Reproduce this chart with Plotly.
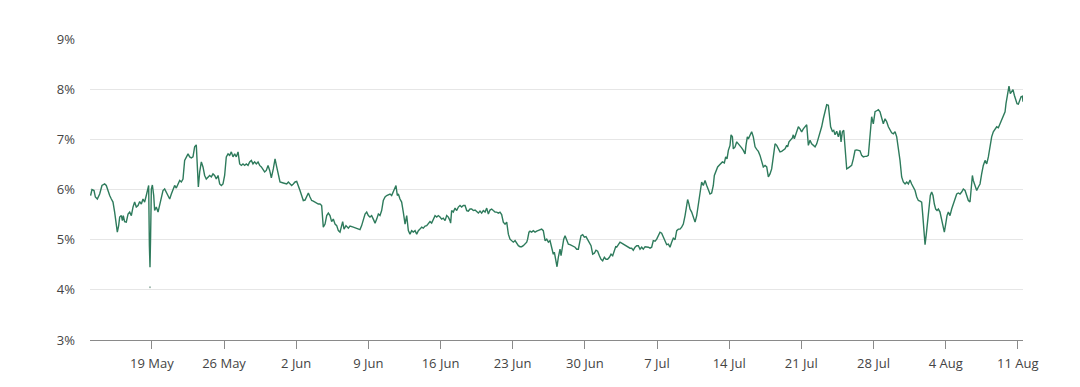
import pandas as pd
import plotly.graph_objects as go

START = "2024-05-13"

# time of each observation, in days since START
days = [
    0.06, 0.19, 0.39, 0.52, 0.71, 0.94, 1.16, 1.42, 1.58, 1.75, 1.91, 2.07, 2.23, 2.39, 2.55, 2.65,
    2.78, 2.88, 3.04, 3.14, 3.23, 3.36, 3.52, 3.69, 3.85, 4.01, 4.17, 4.33, 4.49, 4.66, 4.82, 4.98,
    5.14, 5.30, 5.46, 5.63, 5.69, 5.76, 5.82, 5.88, 5.95, 6.05, 6.18, 6.27, 6.43, 6.60, 6.76, 6.92,
    7.08, 7.24, 7.40, 7.57, 7.73, 7.89, 8.05, 8.21, 8.37, 8.54, 8.70, 8.86, 9.02, 9.18, 9.34, 9.51,
    9.67, 9.83, 9.99, 10.15, 10.31, 10.41, 10.51, 10.64, 10.80, 10.96, 11.12, 11.28, 11.45, 11.61,
    11.77, 11.93, 12.09, 12.25, 12.42, 12.58, 12.74, 12.90, 13.06, 13.22, 13.39, 13.55, 13.71, 13.87,
    14.03, 14.19, 14.36, 14.52, 14.68, 14.84, 15.00, 15.16, 15.33, 15.49, 15.65, 15.81, 15.97, 16.13,
    16.30, 16.46, 16.62, 16.78, 16.94, 17.10, 17.27, 17.43, 17.59,
    17.78, 17.95, 18.11, 18.27, 18.43, 18.75, 19.08, 19.24, 19.40, 19.56, 19.72, 19.89, 20.05, 20.21,
    20.37, 20.53, 20.69, 20.86, 21.02, 21.18, 21.34, 21.50, 21.66, 21.83, 21.99, 22.15, 22.31, 22.47,
    22.63, 22.80, 22.96, 23.12, 23.28, 23.44, 23.60, 23.77, 23.93, 24.09, 24.25, 24.41, 24.51, 24.64,
    24.83, 25.06, 25.22, 25.54, 25.87, 26.19, 26.35, 26.51, 26.68, 26.84, 27.00, 27.16, 27.32, 27.48,
    27.65, 27.81, 27.97, 28.13, 28.29, 28.45, 28.62, 28.78, 28.94, 29.10, 29.26, 29.42, 29.59, 29.68,
    29.81, 29.91, 30.07, 30.23, 30.39, 30.56, 30.72, 30.88, 31.04, 31.20, 31.36, 31.53, 31.69, 31.85,
    32.01, 32.17, 32.33, 32.50, 32.66, 32.82, 32.98, 33.14, 33.30, 33.47, 33.63, 33.79, 33.95, 34.11,
    34.27, 34.44, 34.60, 34.76, 34.92, 34.98, 35.08, 35.24, 35.41, 35.57, 35.73,
    35.89, 36.05, 36.21, 36.38, 36.54, 36.70, 36.86, 37.02, 37.18, 37.35, 37.51, 37.67, 37.83, 37.99,
    38.15, 38.32, 38.48, 38.64, 38.80, 38.96, 39.12, 39.29, 39.45, 39.61, 39.77, 39.93, 40.09, 40.26,
    40.42, 40.58, 40.74, 40.90, 41.06, 41.23, 41.39, 41.55, 41.71, 41.87, 42.03, 42.20, 42.36, 42.45,
    42.58, 42.68, 42.84, 43.00, 43.17, 43.33, 43.49, 43.65, 43.81, 43.97, 44.14, 44.30, 44.46, 44.62,
    44.78, 44.94, 45.04, 45.17, 45.30, 45.43, 45.59, 45.69, 45.82, 45.95, 46.08, 46.24, 46.40, 46.56,
    46.72, 46.88, 47.05, 47.21, 47.37, 47.53, 47.63, 47.79, 47.95, 48.11, 48.27, 48.44, 48.60, 48.76,
    48.92, 49.08, 49.24, 49.41, 49.57, 49.73, 49.89, 50.05, 50.21, 50.38, 50.54, 50.70, 50.86, 50.99,
    51.09, 51.25, 51.41, 51.57, 51.73, 51.90, 52.06, 52.22, 52.38, 52.54, 52.70, 52.87, 53.03, 53.19,
    53.35, 53.51, 53.67, 53.84, 54.00, 54.16,
    54.32, 54.48, 54.64, 54.81, 54.97, 55.13, 55.29, 55.45, 55.61, 55.78, 55.94, 56.10, 56.26, 56.42,
    56.58, 56.75, 56.91, 57.07, 57.23, 57.39, 57.55, 57.72, 57.88, 57.97, 58.10, 58.20, 58.36, 58.52,
    58.69, 58.85, 59.01, 59.17, 59.33, 59.49, 59.66, 59.82, 59.98, 60.14, 60.30, 60.46, 60.56, 60.69,
    60.88, 61.01, 61.21, 61.34, 61.53, 61.66, 61.79, 61.92, 62.08, 62.18, 62.31, 62.40, 62.57, 62.73,
    62.89, 63.05, 63.21, 63.37, 63.54, 63.63, 63.76, 63.86, 64.02, 64.18, 64.34, 64.51, 64.67, 64.83,
    64.99, 65.15, 65.31, 65.48, 65.64, 65.80, 65.96, 66.12, 66.28, 66.45, 66.61, 66.77, 66.93, 67.09,
    67.25, 67.42, 67.58, 67.67, 67.80, 67.96, 68.13, 68.22, 68.32, 68.45, 68.61, 68.71, 68.87, 69.03,
    69.19, 69.36, 69.52, 69.68, 69.84, 70.00, 70.16, 70.33, 70.49, 70.65, 70.81, 70.97, 71.13, 71.30,
    71.46, 71.62, 71.72, 71.84, 72.01, 72.14, 72.27, 72.43, 72.59,
    72.75, 72.85, 72.98, 73.11, 73.24, 73.40, 73.56, 73.72, 73.88, 74.04, 74.21, 74.37, 74.53, 74.69,
    74.85, 75.01, 75.18, 75.34, 75.50, 75.66, 75.82, 75.98, 76.15, 76.31, 76.47, 76.63, 76.79, 76.95,
    77.12, 77.28, 77.44, 77.60, 77.76, 77.92, 78.09, 78.25, 78.41, 78.57, 78.73, 78.89, 79.06, 79.22,
    79.38, 79.54, 79.70, 79.86, 80.03, 80.19, 80.35, 80.51, 80.67, 80.77, 80.87, 81.00, 81.12, 81.25,
    81.38, 81.51, 81.64, 81.77, 81.90, 82.03, 82.16, 82.29, 82.45, 82.61, 82.77, 82.87, 83.00, 83.13,
    83.26, 83.42, 83.58, 83.74, 83.91, 84.07, 84.23, 84.39, 84.55, 84.71, 84.88, 85.04, 85.20, 85.36,
    85.46, 85.59, 85.68, 85.85, 86.01, 86.17, 86.33, 86.49, 86.65, 86.82, 86.98, 87.14, 87.30, 87.46,
    87.62, 87.79, 87.95, 88.11, 88.27, 88.43, 88.59, 88.76, 88.85, 88.98, 89.08, 89.14, 89.27, 89.40,
    89.53, 89.66, 89.79, 89.92, 90.05, 90.18, 90.31, 90.44, 90.50,
]

# rate, in percent
rate = [
    5.88, 6.00, 5.98, 5.85, 5.81, 5.91, 6.08, 6.11, 6.08, 5.95, 5.88, 5.81, 5.75, 5.55, 5.25, 5.15,
    5.28, 5.45, 5.48, 5.38, 5.48, 5.36, 5.35, 5.51, 5.55, 5.48, 5.65, 5.75, 5.65, 5.68, 5.76, 5.71,
    5.81, 5.75, 5.88, 6.01, 6.08, 4.88, 4.45, 5.08, 6.01, 6.09, 5.88, 5.58, 5.65, 5.55, 5.68, 5.85,
    5.98, 6.01, 5.95, 5.88, 5.81, 5.91, 5.98, 6.08, 6.03, 6.11, 6.18, 6.15, 6.21, 6.58, 6.65, 6.71,
    6.65, 6.63, 6.65, 6.85, 6.89, 6.55, 6.05, 6.35, 6.55, 6.45, 6.28, 6.21, 6.25, 6.28,
    6.25, 6.31, 6.28, 6.21, 6.28, 6.11, 6.08, 6.11, 6.28, 6.65, 6.71, 6.68, 6.75, 6.65,
    6.71, 6.65, 6.75, 6.51, 6.48, 6.51, 6.48, 6.51, 6.48, 6.55, 6.58, 6.51, 6.55, 6.51,
    6.55, 6.48, 6.45, 6.41, 6.35, 6.38, 6.48, 6.38, 6.23,
    6.41, 6.61, 6.45, 6.28, 6.15, 6.13, 6.11, 6.15, 6.11, 6.08, 6.11, 6.15, 6.16, 6.08,
    5.98, 5.88, 5.78, 5.79, 5.85, 5.93, 5.85, 5.78, 5.77, 5.75, 5.73, 5.71, 5.71, 5.68,
    5.25, 5.31, 5.48, 5.53, 5.48, 5.36, 5.41, 5.31, 5.28, 5.18, 5.15, 5.25, 5.36, 5.21,
    5.28, 5.23, 5.27, 5.25, 5.23, 5.20, 5.28, 5.38, 5.51, 5.55, 5.48, 5.45, 5.48, 5.41,
    5.33, 5.41, 5.51, 5.48, 5.58, 5.78, 5.85, 5.88, 5.89, 5.91, 5.88, 5.95, 6.05, 6.08,
    5.88, 5.91, 5.81, 5.75, 5.55, 5.31, 5.48, 5.18, 5.11, 5.18, 5.15, 5.18, 5.11, 5.18,
    5.21, 5.25, 5.23, 5.27, 5.28, 5.31, 5.36, 5.33, 5.41, 5.48, 5.45, 5.48, 5.45, 5.41,
    5.43, 5.38, 5.48, 5.45, 5.38, 5.33, 5.58, 5.55, 5.63, 5.58, 5.65,
    5.68, 5.65, 5.68, 5.68, 5.58, 5.57, 5.61, 5.61, 5.58, 5.59, 5.55, 5.53, 5.57, 5.53,
    5.58, 5.55, 5.63, 5.51, 5.59, 5.61, 5.58, 5.55, 5.55, 5.53, 5.55, 5.50, 5.35, 5.31,
    5.35, 5.11, 5.01, 4.97, 4.95, 4.98, 4.93, 4.88, 4.86, 4.86, 4.88, 4.91, 4.95, 5.01,
    5.15, 5.17, 5.15, 5.18, 5.15, 5.17, 5.18, 5.19, 5.21, 5.18, 4.98, 5.01, 4.95, 4.98,
    4.81, 4.71, 4.75, 4.55, 4.46, 4.65, 4.81, 4.68, 4.85, 5.01, 5.08, 5.01, 4.91, 4.90,
    4.88, 4.86, 4.85, 4.81, 4.81, 4.98, 5.08, 5.10, 5.05, 5.06, 5.01, 4.95, 4.88, 4.71,
    4.73, 4.79, 4.77, 4.68, 4.61, 4.58, 4.65, 4.61, 4.61, 4.65, 4.71, 4.68, 4.78, 4.86,
    4.85, 4.91, 4.95, 4.93, 4.91, 4.88, 4.86, 4.85, 4.83, 4.83, 4.79, 4.85, 4.88, 4.88,
    4.81, 4.85, 4.81, 4.86, 4.86, 4.85,
    4.83, 4.85, 4.98, 4.97, 5.01, 5.09, 5.15, 5.13, 5.05, 4.95, 4.90, 4.91, 4.85, 4.95,
    5.03, 5.00, 5.18, 5.21, 5.21, 5.25, 5.31, 5.48, 5.68, 5.80, 5.71, 5.61, 5.55, 5.47,
    5.35, 5.48, 5.68, 5.88, 6.15, 6.08, 6.18, 6.08, 5.98, 5.91, 5.93, 6.08, 6.28, 6.35,
    6.45, 6.48, 6.53, 6.55, 6.53, 6.65, 6.61, 6.78, 6.88, 7.09, 7.05, 6.81, 6.85, 6.95,
    6.91, 6.88, 6.83, 6.78, 6.71, 6.88, 7.05, 7.01, 7.08, 7.15, 7.05, 6.85, 6.80, 6.76,
    6.68, 6.58, 6.45, 6.48, 6.45, 6.25, 6.31, 6.41, 6.68, 6.91, 6.88, 6.81, 6.75, 6.76,
    6.78, 6.81, 6.88, 6.85, 6.95, 6.98, 7.03, 7.09, 7.01, 7.09, 7.18, 7.25, 7.21, 7.15,
    7.21, 7.25, 7.29, 6.88, 6.98, 6.91, 6.88, 6.85, 6.91, 7.01, 7.11, 7.25, 7.41, 7.58,
    7.69, 7.68, 7.48, 7.25, 7.16, 7.18, 7.09, 7.16, 7.05,
    7.18, 6.95, 7.15, 7.18, 6.85, 6.41, 6.43, 6.46, 6.48, 6.61, 6.78, 6.79, 6.78, 6.77,
    6.68, 6.65, 6.66, 6.66, 6.68, 7.05, 7.45, 7.31, 7.55, 7.57, 7.59, 7.55, 7.45, 7.31,
    7.41, 7.35, 7.25, 7.18, 7.13, 7.11, 7.15, 7.05, 6.85, 6.58, 6.25, 6.15, 6.11, 6.15,
    6.11, 6.19, 6.11, 6.06, 5.98, 5.85, 5.78, 5.77, 5.75, 5.51, 5.18, 4.90, 5.11, 5.38,
    5.68, 5.88, 5.95, 5.88, 5.71, 5.61, 5.58, 5.61, 5.55, 5.38, 5.25, 5.15, 5.31, 5.48,
    5.55, 5.48, 5.61, 5.71, 5.81, 5.91, 5.93, 5.91, 5.95, 6.01, 5.98, 5.85, 5.78, 5.75,
    5.98, 6.28, 6.18, 6.05, 5.98, 6.05, 6.11, 6.31, 6.48, 6.58, 6.51, 6.65, 6.88, 7.05,
    7.15, 7.21, 7.25, 7.23, 7.31, 7.39, 7.45, 7.55, 7.71, 7.88, 7.99, 8.06, 7.91, 7.95,
    7.99, 7.88, 7.81, 7.71, 7.70, 7.78, 7.85, 7.86, 7.75,
]

# isolated stray observation below the spike
stray_days = [5.82]
stray_rate = [4.05]

tick_dates = ["2024-05-19", "2024-05-26", "2024-06-02", "2024-06-09", "2024-06-16",
              "2024-06-23", "2024-06-30", "2024-07-07", "2024-07-14", "2024-07-21",
              "2024-07-28", "2024-08-04", "2024-08-11"]
tick_labels = ["19 May", "26 May", "2 Jun", "9 Jun", "16 Jun", "23 Jun", "30 Jun",
               "7 Jul", "14 Jul", "21 Jul", "28 Jul", "4 Aug", "11 Aug"]
y_ticks = [3, 4, 5, 6, 7, 8, 9]
y_labels = ["3%", "4%", "5%", "6%", "7%", "8%", "9%"]

start = pd.Timestamp(START)
x = start + pd.to_timedelta(days, unit="D")
xs = start + pd.to_timedelta(stray_days, unit="D")

LINE = "#2e7b5c"
FONT = "Open Sans"

fig = go.Figure()
fig.add_trace(go.Scatter(x=x, y=rate, mode="lines",
                         line=dict(color=LINE, width=1.4), hoverinfo="skip"))
fig.add_trace(go.Scatter(x=xs, y=stray_rate, mode="markers",
                         marker=dict(color="#9bb5aa", size=2), hoverinfo="skip"))

fig.update_layout(
    width=1080, height=387,
    margin=dict(l=82, r=65, t=31, b=55),
    paper_bgcolor="white", plot_bgcolor="white",
    showlegend=False,
    font=dict(family=FONT, size=13, color="#444444"),
)
fig.update_xaxes(
    type="date",
    range=[start, start + pd.Timedelta(days=90.5)],
    tickvals=pd.to_datetime(tick_dates), ticktext=tick_labels,
    showgrid=False, zeroline=False,
    showline=True, linecolor="#8a8a8a", linewidth=1,
    ticks="outside", ticklen=8, tickcolor="#8a8a8a", tickwidth=1,
    ticklabelstandoff=3,
    tickfont=dict(family=FONT, size=13, color="#444444"),
)
fig.update_yaxes(
    range=[3, 9],
    tickvals=y_ticks, ticktext=y_labels,
    showgrid=True, gridcolor="#e6e6e6", gridwidth=1,
    zeroline=False, showline=False, ticks="",
    ticklabelstandoff=14,
    tickfont=dict(family=FONT, size=13, color="#444444"),
)

fig.write_html("out.html")
